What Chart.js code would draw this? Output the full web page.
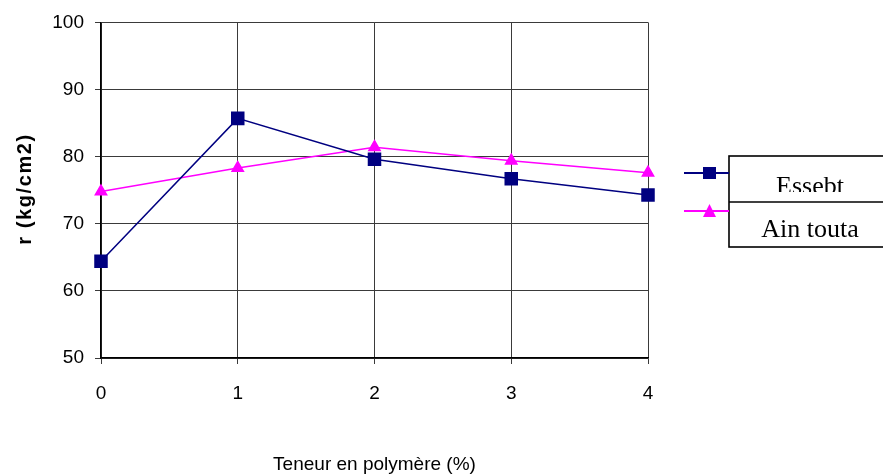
<!DOCTYPE html>
<html>
<head>
<meta charset="utf-8">
<script src="https://cdn.jsdelivr.net/npm/chart.js@4/dist/chart.umd.min.js"></script>
<style>
html,body{margin:0;padding:0;background:#fff;}
#wrap{width:883px;height:476px;position:relative;}
</style>
</head>
<body>
<div id="wrap"><canvas id="c" width="883" height="476"></canvas></div>
<script>
const categories = ['0', '1', '2', '3', '4'];
const essebt = [64.4, 85.7, 79.6, 76.7, 74.3];
const ainTouta = [74.8, 78.3, 81.4, 79.4, 77.6];
const seriesNames = ['Essebt', 'Ain touta'];
const yTicks = [50, 60, 70, 80, 90, 100];
const yTitle = 'r (kg/cm2)';

const boxLegend = {
  id: 'boxLegend',
  afterDraw(chart) {
    const ctx = chart.ctx;
    // y axis title (letter-spaced)
    ctx.save();
    ctx.translate(25, 189);
    ctx.rotate(-Math.PI / 2);
    ctx.font = 'bold 20px "Liberation Sans", Arial, sans-serif';
    ctx.letterSpacing = '1.6px';
    ctx.fillStyle = '#000';
    ctx.textAlign = 'center';
    ctx.textBaseline = 'middle';
    ctx.fillText(yTitle, 0, 0);
    ctx.restore();

    const x0 = 729, x1 = 885, y0 = 156, ymid = 202, y1 = 247;
    ctx.save();
    ctx.strokeStyle = '#000';
    ctx.lineWidth = 1.6;
    ctx.strokeRect(x0, y0, x1 - x0, y1 - y0);
    ctx.beginPath(); ctx.moveTo(x0, ymid); ctx.lineTo(x1, ymid); ctx.stroke();
    const rows = [{y: 173, base: 194, clip: [y0 + 1, 192]}, {y: 211, base: 237, clip: [ymid + 1, y1 - 1]}];
    chart.data.datasets.forEach((ds, i) => {
      const r = rows[i];
      ctx.strokeStyle = ds.borderColor;
      ctx.lineWidth = 2;
      ctx.beginPath(); ctx.moveTo(684, r.y); ctx.lineTo(x0, r.y); ctx.stroke();
      ctx.fillStyle = ds.backgroundColor;
      ctx.beginPath();
      if (ds.pointStyle === 'rect') {
        ctx.rect(703, r.y - 6, 13, 12);
      } else {
        ctx.moveTo(709.5, r.y - 7); ctx.lineTo(716, r.y + 6); ctx.lineTo(703, r.y + 6); ctx.closePath();
      }
      ctx.fill();
      ctx.save();
      ctx.beginPath();
      ctx.rect(x0 + 1, r.clip[0], x1 - x0, r.clip[1] - r.clip[0]);
      ctx.clip();
      ctx.fillStyle = '#000';
      ctx.font = '26px "Liberation Serif", "Times New Roman", serif';
      ctx.textAlign = 'center';
      ctx.textBaseline = 'alphabetic';
      ctx.fillText(ds.label, 810, r.base);
      ctx.restore();
    });
    ctx.restore();
  }
};

new Chart(document.getElementById('c'), {
  type: 'line',
  data: {
    labels: categories,
    datasets: [
      {label: seriesNames[0], data: essebt, borderColor: '#000080', backgroundColor: '#000080',
       borderWidth: 1.5, pointStyle: 'rect', pointRadius: 8.5, pointHoverRadius: 8.5, tension: 0},
      {label: seriesNames[1], data: ainTouta, borderColor: '#FF00FF', backgroundColor: '#FF00FF',
       borderWidth: 1.5, pointStyle: 'triangle', pointRadius: 6.5, pointHoverRadius: 6.5, tension: 0}
    ]
  },
  options: {
    responsive: false,
    animation: false,
    events: [],
    layout: {padding: {left: 0, right: 235, top: 22, bottom: 0}},
    plugins: {legend: {display: false}, tooltip: {enabled: false}},
    scales: {
      x: {
        offset: false,
        grid: {color: '#3a3a3a', lineWidth: 1, tickLength: 6, drawTicks: true},
        border: {color: '#000', width: 1.5},
        ticks: {color: '#000', font: {family: 'Liberation Sans, Arial', size: 19}, padding: 18, maxRotation: 0},
        title: {display: true, text: 'Teneur en polymère (%)', color: '#000',
                font: {family: 'Liberation Sans, Arial', size: 19}, padding: {top: 40, bottom: 0}},
        afterFit(s) { s.height = 118; }
      },
      y: {
        min: 50, max: 100,
        afterBuildTicks(s) { s.ticks = yTicks.map(v => ({value: v})); },
        grid: {color: '#3a3a3a', lineWidth: 1, tickLength: 6},
        border: {color: '#000', width: 1.5},
        ticks: {color: '#000', font: {family: 'Liberation Sans, Arial', size: 19}, padding: 11},
        title: {display: false},
        afterFit(s) { s.width = 101; }
      }
    }
  },
  plugins: [boxLegend]
});
</script>
</body>
</html>
